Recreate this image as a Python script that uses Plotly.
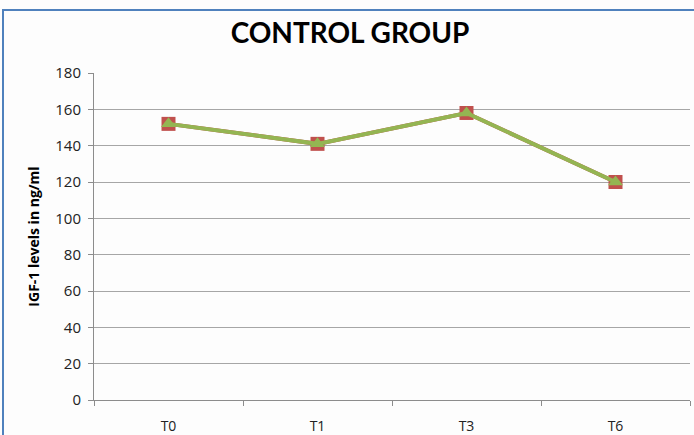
import plotly.graph_objects as go

# IGF-1 levels over time, control group
timepoints = ["T0", "T1", "T3", "T6"]
igf1_values = [152, 141, 158, 120]
y_ticks = [0, 20, 40, 60, 80, 100, 120, 140, 160, 180]

W, H = 694, 435
ML, MR, MT, MB = 94, 4, 73, 35
pw = W - ML - MR
ph = H - MT - MB

fig = go.Figure()

# first series: red squares underneath
fig.add_trace(go.Scatter(
    x=timepoints, y=igf1_values, mode="lines+markers",
    line=dict(color="#c0504d", width=4),
    marker=dict(symbol="square", size=14, color="#c0504d",
                line=dict(width=0)),
    hoverinfo="skip", showlegend=False,
))
# second series: green line with triangles on top
fig.add_trace(go.Scatter(
    x=timepoints, y=igf1_values, mode="lines+markers",
    line=dict(color="#94b552", width=4),
    marker=dict(symbol="triangle-up", size=13, color="#94b552",
                line=dict(width=0)),
    showlegend=False,
))

# outer chart frame
fig.add_shape(type="rect", xref="paper", yref="paper",
              x0=(3 - ML) / pw, x1=(W + 10 - ML) / pw,
              y0=-(H + 10 - MT - ph) / ph, y1=(H - 10 - MB) / ph,
              line=dict(color="#4f81bd", width=2), fillcolor="rgba(0,0,0,0)",
              layer="below")

fig.update_layout(
    width=W, height=H,
    margin=dict(l=ML, r=MR, t=MT, b=MB),
    paper_bgcolor="#fdfdfd", plot_bgcolor="#fdfdfd",
    title=dict(text="<b>CONTROL GROUP</b>", x=(350) / W, xanchor="center",
               y=1 - 33 / H, yanchor="middle",
               font=dict(family="Lato", size=28, color="#000000")),
    font=dict(family="Open Sans", size=14, color="#222222"),
)
fig.update_xaxes(
    type="category", range=[-0.5, 3.5], automargin=False,
    showline=True, linecolor="#8c8c8c", linewidth=1,
    ticks="outside", tickson="boundaries", ticklen=5, tickcolor="#8c8c8c",
    ticklabelstandoff=13,
    showgrid=False, tickfont=dict(size=14, color="#222222"),
    fixedrange=True,
)
fig.update_yaxes(
    range=[0, 180], tickvals=y_ticks, automargin=False,
    showline=True, linecolor="#8c8c8c", linewidth=1,
    ticks="outside", ticklen=5, tickcolor="#8c8c8c",
    ticklabelstandoff=4,
    showgrid=True, gridcolor="#a6a6a6", gridwidth=1,
    zeroline=False, tickfont=dict(size=15, color="#222222"),
    title=dict(text="<b>IGF-1 levels in ng/ml</b>", standoff=12,
               font=dict(family="Open Sans", size=14, color="#000000")),
    fixedrange=True,
)

fig.write_html("out.html")
